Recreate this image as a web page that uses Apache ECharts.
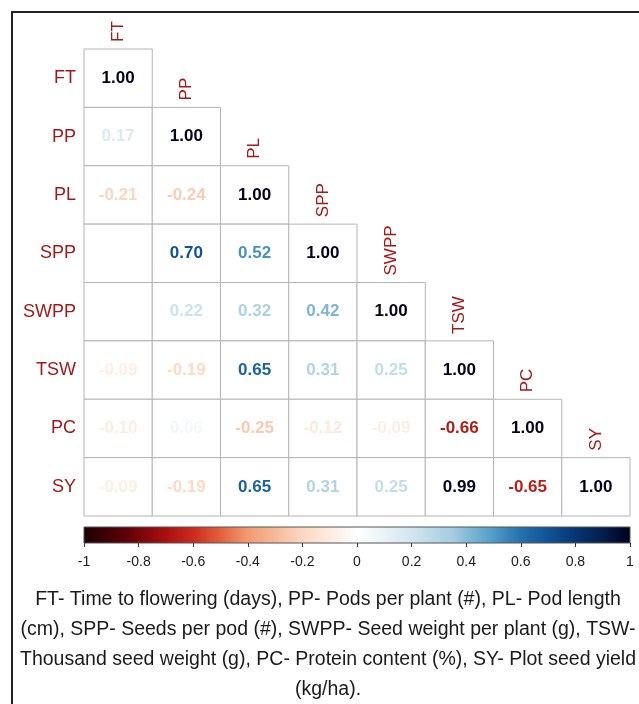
<!DOCTYPE html>
<html><head><meta charset="utf-8">
<script src="https://cdn.jsdelivr.net/npm/echarts@6/dist/echarts.min.js"></script>
<style>html,body{margin:0;padding:0;background:#fff}#c{width:639px;height:704px}</style>
</head><body><div id="c"></div>
<script>
// ---- data ----
const variables = ['FT', 'PP', 'PL', 'SPP', 'SWPP', 'TSW', 'PC', 'SY'];
// lower-triangle correlation rows (null = blank cell)
const rowFT   = [1.00];
const rowPP   = [0.17, 1.00];
const rowPL   = [-0.21, -0.24, 1.00];
const rowSPP  = [null, 0.70, 0.52, 1.00];
const rowSWPP = [null, 0.22, 0.32, 0.42, 1.00];
const rowTSW  = [-0.09, -0.19, 0.65, 0.31, 0.25, 1.00];
const rowPC   = [-0.10, 0.06, -0.25, -0.12, -0.09, -0.66, 1.00];
const rowSY   = [-0.09, -0.19, 0.65, 0.31, 0.25, 0.99, -0.65, 1.00];
const colorbarRange = [-1, 1];
const colorbarInterval = 0.2;
const captionLines = [
  'FT- Time to flowering (days), PP- Pods per plant (#), PL- Pod length',
  '(cm), SPP- Seeds per pod (#), SWPP- Seed weight per plant (g), TSW-',
  'Thousand seed weight (g), PC- Protein content (%), SY- Plot seed yield',
  '(kg/ha).'
];

// ---- style ----
const FONT = 'Liberation Sans, Arial, sans-serif';
const palette = [
  [-1, '#1a0000'], [-0.85, '#5c0008'], [-0.7, '#a8100f'], [-0.6, '#cc2a1e'],
  [-0.5, '#e2603c'], [-0.4, '#f29a72'], [-0.2, '#fcd8c2'], [0, '#ffffff'],
  [0.2, '#d2e6f0'], [0.35, '#a3cce2'], [0.5, '#4f9bc8'], [0.6, '#2470ac'],
  [0.7, '#0f5296'], [0.8, '#073572'], [0.9, '#041e4c'], [1, '#00001c']
];
function hex2rgb(h){return [parseInt(h.slice(1,3),16),parseInt(h.slice(3,5),16),parseInt(h.slice(5,7),16)];}
function colorFor(v){
  for (let k = 0; k < palette.length - 1; k++) {
    const a = palette[k], b = palette[k+1];
    if (v >= a[0] && v <= b[0]) {
      const t = (v - a[0]) / (b[0] - a[0]);
      const ca = hex2rgb(a[1]), cb = hex2rgb(b[1]);
      const c = ca.map((x, i) => Math.round(x + (cb[i] - x) * t));
      return 'rgb(' + c.join(',') + ')';
    }
  }
  return v < 0 ? palette[0][1] : palette[palette.length-1][1];
}

const rows = [rowFT, rowPP, rowPL, rowSPP, rowSWPP, rowTSW, rowPC, rowSY];
const cellData = [];
rows.forEach((r, i) => r.forEach((v, j) => cellData.push([j, i, v === null ? '-' : v])));

const chart = echarts.init(document.getElementById('c'));
chart.setOption({
  animation: false,
  textStyle: { fontFamily: FONT },
  grid: [
    { left: 84, top: 49, width: 546, height: 467 },
    { left: 84, top: 527, width: 546, height: 16 }
  ],
  xAxis: [
    { type: 'category', data: variables, gridIndex: 0, show: false },
    { type: 'value', gridIndex: 1, min: colorbarRange[0], max: colorbarRange[1], interval: colorbarInterval,
      axisLine: { show: false }, splitLine: { show: false },
      axisTick: { show: true, length: 4, lineStyle: { color: '#333' } },
      axisLabel: { fontSize: 14, color: '#1a1a1a', margin: 12, fontFamily: FONT } }
  ],
  yAxis: [
    { type: 'category', data: variables, gridIndex: 0, inverse: true,
      axisLine: { show: false }, axisTick: { show: false }, splitLine: { show: false },
      axisLabel: { color: '#a31818', fontSize: 18, margin: 8, fontFamily: FONT } },
    { type: 'value', gridIndex: 1, min: 0, max: 1, show: false }
  ],
  graphic: [
    { type: 'rect', shape: { x: 12, y: 12, width: 1000, height: 1000 },
      style: { fill: null, stroke: '#222', lineWidth: 2 }, silent: true },
    { type: 'text', x: 328, y: 585,
      style: { text: captionLines.join('\n'), font: '19.5px ' + FONT, align: 'center',
               verticalAlign: 'top', lineHeight: 30, fill: '#1a1a1a' } }
  ],
  series: [
    {
      type: 'custom', xAxisIndex: 0, yAxisIndex: 0,
      data: cellData,
      encode: { x: 0, y: 1 },
      renderItem: function (params, api) {
        const j = api.value(0), i = api.value(1), v = api.value(2);
        const c = api.coord([j, i]);
        const s = api.size([1, 1]);
        const children = [{
          type: 'rect',
          shape: { x: c[0] - s[0] / 2, y: c[1] - s[1] / 2, width: s[0], height: s[1] },
          style: { fill: '#fff', stroke: '#b4b4b4', lineWidth: 1 }
        }];
        if (!isNaN(v)) {
          children.push({
            type: 'text', x: c[0], y: c[1],
            style: { text: v.toFixed(2), font: 'bold 17px ' + FONT, fill: colorFor(v),
                     align: 'center', verticalAlign: 'middle' }
          });
        }
        if (i === j) {
          children.push({
            type: 'text', x: c[0], y: c[1] - s[1] / 2 - 7, rotation: Math.PI / 2,
            style: { text: variables[j], font: '17px ' + FONT, fill: '#a31818',
                     align: 'left', verticalAlign: 'middle' }
          });
        }
        return { type: 'group', children: children };
      }
    },
    {
      type: 'custom', xAxisIndex: 1, yAxisIndex: 1,
      data: [colorbarRange],
      renderItem: function (params, api) {
        const p0 = api.coord([api.value(0), 1]);
        const p1 = api.coord([api.value(1), 0]);
        const stops = palette.map(p => ({ offset: (p[0] + 1) / 2, color: p[1] }));
        return {
          type: 'rect',
          shape: { x: p0[0], y: p0[1], width: p1[0] - p0[0], height: p1[1] - p0[1] },
          style: { fill: new echarts.graphic.LinearGradient(0, 0, 1, 0, stops), stroke: '#555', lineWidth: 1 }
        };
      }
    }
  ]
});
</script></body></html>
